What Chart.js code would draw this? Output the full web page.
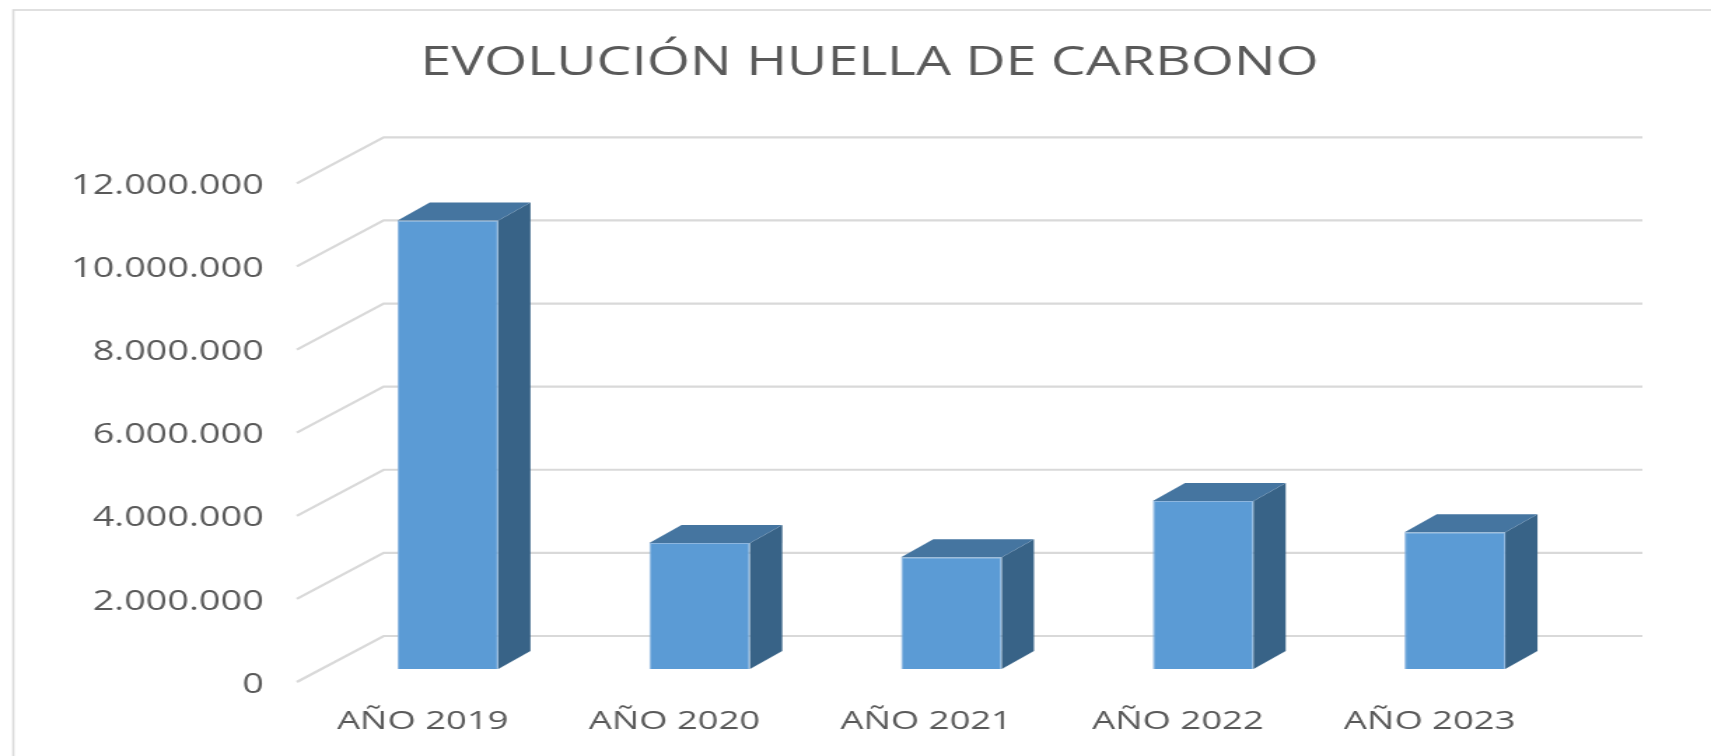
<!DOCTYPE html>
<html>
<head>
<meta charset="utf-8">
<script src="https://cdn.jsdelivr.net/npm/chart.js@4.4.1/dist/chart.umd.min.js"></script>
<style>
    body { margin: 0; background: #ffffff; overflow: hidden; }
    /* the reference picture is stretched sideways, so the whole chart is too */
    #wrap { width: 1222px; height: 756px; transform: scaleX(1.40016); transform-origin: 0 0; }
</style>
</head>
<body>
<div id="wrap"><canvas id="huella-chart" width="1222" height="756"></canvas></div>
<script>
const years = ["AÑO 2019", "AÑO 2020", "AÑO 2021", "AÑO 2022", "AÑO 2023"]
const huella = [10790000, 3030000, 2690000, 4040000, 3290000]
const yTicks = [0, 2000000, 4000000, 6000000, 8000000, 10000000, 12000000]

const textColor = "#595959"
const gridColor = "#d9d9d9"
const frontColor = "#5b9bd5"
const topColor = "#4575a0"
const sideColor = "#386387"

// fake 3D: back wall offset, bar front plane offset and bar depth (canvas px)
const wall = {dx: 62, dy: -46}
const barShift = {dx: 18, dy: -13}
const barDepth = {dx: 23, dy: -18}

function formatMiles(v) {
    return String(v).replace(/\B(?=(\d{3})+(?!\d))/g, ".")
}

const frame3d = {
    id: 'frame3d',
    beforeDraw(chart) {
        const ctx = chart.ctx
        ctx.save()
        ctx.strokeStyle = gridColor
        ctx.lineWidth = 1.6
        ctx.strokeRect(9.5, 10, 1400, 900)
        ctx.restore()
    },
    beforeDatasetsDraw(chart) {
        const ctx = chart.ctx
        const area = chart.chartArea
        const yScale = chart.scales.y
        ctx.save()
        ctx.strokeStyle = gridColor
        ctx.lineWidth = 2.2
        for (const v of yTicks) {
            const y = yScale.getPixelForValue(v)
            ctx.beginPath()
            ctx.moveTo(area.left, y)
            ctx.lineTo(area.left + wall.dx, y + wall.dy)
            ctx.lineTo(area.right + wall.dx, y + wall.dy)
            ctx.stroke()
        }
        ctx.restore()
        ctx.save()
        ctx.translate(barShift.dx, barShift.dy)
    },
    afterDatasetsDraw(chart) {
        const ctx = chart.ctx
        const meta = chart.getDatasetMeta(0)
        meta.data.forEach(bar => {
            const p = bar.getProps(['x', 'y', 'base', 'width'], true)
            const l = p.x - p.width / 2
            const r = p.x + p.width / 2
            ctx.fillStyle = sideColor
            ctx.beginPath()
            ctx.moveTo(r, p.base)
            ctx.lineTo(r + barDepth.dx, p.base + barDepth.dy)
            ctx.lineTo(r + barDepth.dx, p.y + barDepth.dy)
            ctx.lineTo(r, p.y)
            ctx.closePath()
            ctx.fill()
            ctx.fillStyle = topColor
            ctx.beginPath()
            ctx.moveTo(l, p.y)
            ctx.lineTo(l + barDepth.dx, p.y + barDepth.dy)
            ctx.lineTo(r + barDepth.dx, p.y + barDepth.dy)
            ctx.lineTo(r, p.y)
            ctx.closePath()
            ctx.fill()
        })
        ctx.restore()
    }
}

const huellaChart = new Chart(document.getElementById('huella-chart'), {
    type: 'bar',
    data: {
        labels: years,
        datasets: [
            {
                label: 'Huella de carbono',
                data: huella,
                backgroundColor: frontColor,
                borderColor: "#8db6df",
                borderWidth: 1,
                barPercentage: 0.4,
                categoryPercentage: 1,
                clip: false
            }
        ]
    },
    options: {
        responsive: false,
        animation: false,
        layout: {
            padding: {left: 20, right: 0, top: 0, bottom: 0}
        },
        scales: {
            x: {
                grid: {display: false},
                border: {display: false},
                ticks: {
                    color: textColor,
                    padding: 16,
                    font: {family: "'Open Sans'", size: 26}
                },
                afterFit(scale) {
                    scale.height = 74
                }
            },
            y: {
                min: 0,
                max: 12000000,
                grid: {display: false},
                border: {display: false},
                ticks: {
                    stepSize: 2000000,
                    color: textColor,
                    padding: 15.6,
                    labelOffset: 3,
                    font: {family: "'Open Sans'", size: 27},
                    callback: v => formatMiles(v)
                },
                afterFit(scale) {
                    scale.width = 192
                }
            },
            // empty right axis, only keeps room for the back wall
            yRight: {
                position: 'right',
                grid: {display: false},
                border: {display: false},
                ticks: {display: false},
                afterFit(scale) {
                    scale.width = 111
                }
            }
        },
        plugins: {
            legend: {display: false},
            tooltip: {enabled: false},
            title: {
                display: true,
                text: "EVOLUCIÓN HUELLA DE CARBONO",
                color: textColor,
                font: {family: "'Open Sans'", size: 39.6, weight: 'normal'},
                padding: {top: 40.2, bottom: 95.6}
            }
        }
    },
    plugins: [frame3d]
})
</script>
</body>
</html>
